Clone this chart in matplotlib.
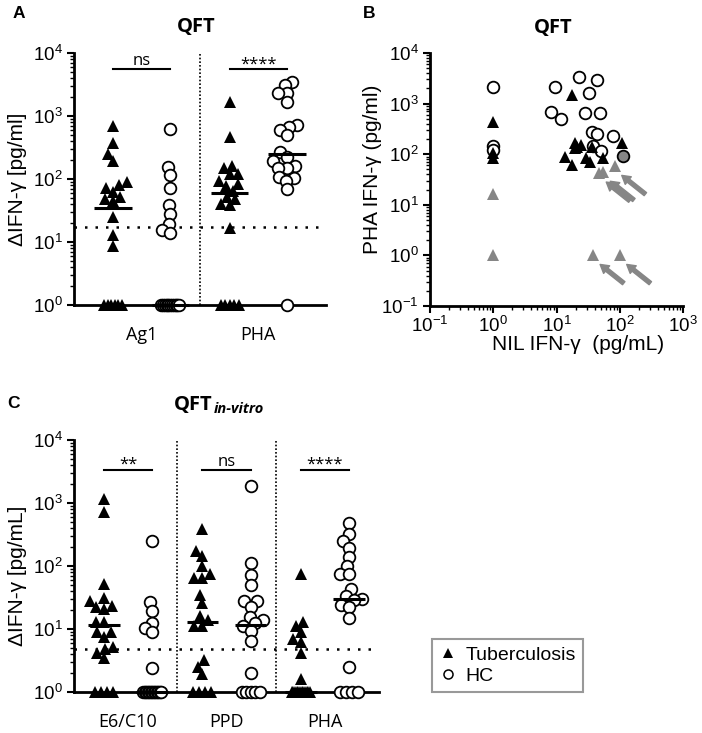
import numpy as np
import matplotlib
matplotlib.use('Agg')
import matplotlib.pyplot as plt
from matplotlib.lines import Line2D
from matplotlib.ticker import FixedLocator, LogLocator, LogFormatterSciNotation, NullFormatter
from matplotlib.transforms import offset_copy

# ---------------- data ----------------
# Panel A : QFT, delta IFN-gamma (pg/ml)
a_groups = ['Ag1', 'PHA']
a_ag1_tb = [690, 378, 246, 194, 89, 80, 73, 63, 52, 49, 44, 25, 13, 8.7, 1, 1, 1, 1, 1, 1]
a_ag1_hc = [615, 157, 116, 71, 38, 28, 19, 15.5, 14, 1, 1, 1, 1, 1, 1, 1, 1, 1, 1, 1]
a_pha_tb = [1650, 460, 162, 148, 118, 118, 94, 83, 78, 65, 52, 48, 40, 38, 16.5, 1, 1, 1, 1, 1]
a_pha_hc = [3500, 3100, 2300, 2300, 1650, 720, 675, 600, 500, 270, 225, 193, 161, 150, 150,
            109, 105, 94, 69, 1]
a_medians_tb = [35, 60]
a_medians_hc = [1, 250]
a_stats = ['ns', '****']
a_cutoff = 17.5

# Panel B : QFT, NIL vs PHA IFN-gamma
b_nil_tb = [1, 1, 1, 17.3, 19.5, 24, 21, 36.6, 13.5, 17.3, 29.7, 33.7, 54.6, 107, 19.5]
b_pha_tb = [440, 105, 85, 1510, 170, 154, 140, 138, 90, 62, 84, 69, 86, 165, 132]
b_nil_tb_grey = [1, 1, 47.5, 55, 83.5, 38, 100]
b_pha_tb_grey = [16.6, 1, 42.5, 44, 57.5, 1, 1]
b_arrow_tb_grey = [False, False, True, True, True, True, True]
b_nil_hc = [1, 1, 1, 22.5, 9.6, 44, 32.4, 8.3, 11.7, 28.7, 48, 35.8, 44, 77, 38, 51]
b_pha_hc = [2140, 148, 120, 3380, 2140, 2890, 1630, 690, 490, 660, 640, 280, 252, 230, 146, 118]
b_nil_hc_grey = [113]
b_pha_hc_grey = [93]

# Panel C : QFT in-vitro, delta IFN-gamma (pg/mL)
c_groups = ['E6/C10', 'PPD', 'PHA']
c_e6_tb = [1140, 730, 52, 31, 28, 23, 22, 21, 13, 13, 9, 8.8, 7.6, 5.2, 4.8, 4.2, 3.5, 1, 1, 1, 1]
c_e6_hc = [250, 26.5, 19.6, 12.3, 10.3, 8.8, 2.4] + [1] * 13
c_ppd_tb = [380, 174, 144, 100, 74, 64, 64, 35, 26, 16, 14, 11, 11, 3.2, 2.5, 1.9, 1, 1, 1, 1]
c_ppd_hc = [1860, 110, 72, 50, 28, 28, 22.6, 15.7, 14, 12.3, 11, 9.4, 6.5, 2.0, 1, 1, 1, 1, 1]
c_pha_tb = [75, 13, 11.3, 8.8, 7, 6.3, 4.2, 1.6] + [1] * 12
c_pha_hc = [475, 318, 245, 195, 137, 100, 74, 74, 43, 33, 30, 29, 24, 22.5, 14.8, 2.5, 1, 1, 1, 1]
c_medians_tb = [11.5, 12.8, 1]
c_medians_hc = [1, 11.6, 30]
c_stats = ['**', 'ns', '****']
c_cutoff = 4.8

legend_labels = ['Tuberculosis', 'HC']

# ---------------- style ----------------
plt.rcParams['font.family'] = ['Liberation Sans', 'DejaVu Sans']
plt.rcParams['mathtext.fontset'] = 'custom'
plt.rcParams['mathtext.rm'] = 'Liberation Sans'
plt.rcParams['axes.unicode_minus'] = True

GREY = '#868686'
W, H = 702, 733
fig = plt.figure(figsize=(W / 100, H / 100), dpi=100)


def rect(l, t, r, b):
    return [l / W, 1 - b / H, (r - l) / W, (b - t) / H]


axA = fig.add_axes(rect(74, 53, 326, 305))
axB = fig.add_axes(rect(430, 53, 683, 306))
axC = fig.add_axes(rect(74, 440, 379, 692))

LAB_FONT = dict(family=['Liberation Sans', 'DejaVu Sans'], size=15)
CAT_FONT = dict(family=['Open Sans', 'DejaVu Sans'], size=13)
TRI = dict(marker='^', ms=8.8, color='black', mew=0, ls='none', clip_on=False, zorder=3)
CIR = dict(marker='o', ms=8.4, mfc='white', mec='black', mew=1.3, ls='none', clip_on=False, zorder=3)


def style_axes(ax):
    for s in ['top', 'right']:
        ax.spines[s].set_visible(False)
    for s in ['left', 'bottom']:
        ax.spines[s].set_linewidth(2)
    ax.tick_params(which='major', length=5, width=1.5, labelsize=13.5, pad=3, direction='out')
    ax.tick_params(which='minor', length=3, width=1, direction='out')


def swarm_x(ax, xc, vals, d=8.5, floor=1.0, floor_span=18.0):
    vals = np.asarray(vals, float)
    py = ax.transData.transform(np.column_stack([np.full(len(vals), xc), vals]))[:, 1]
    ppu = (ax.transData.transform([(xc + 1.0, 1.0)])[0, 0]
           - ax.transData.transform([(xc, 1.0)])[0, 0])
    offs = np.zeros(len(vals))
    fl = np.where(vals <= floor)[0]
    if len(fl) > 1:
        sp = min(d, floor_span / (len(fl) - 1))
        offs[fl] = (np.arange(len(fl)) - (len(fl) - 1) / 2) * sp
    rest = [i for i in np.argsort(py) if vals[i] > floor]
    placed = []
    for i in rest:
        y = py[i]
        nb = [(px, pyy) for px, pyy in placed if abs(pyy - y) < d]
        cands = [0.0]
        for px, pyy in nb:
            dx = np.sqrt(d * d - (pyy - y) ** 2)
            cands += [px - dx, px + dx]
        cands.sort(key=lambda c: (abs(c), c))
        chosen = cands[-1]
        for c in cands:
            if all((c - px) ** 2 + (y - pyy) ** 2 >= d * d - 1e-6 for px, pyy in nb):
                chosen = c
                break
        placed.append((chosen, y))
        offs[i] = chosen
    return xc + offs / ppu


def column_panel(ax, groups, tb_list, hc_list, med_tb, med_hc, stats, cutoff, xlim, off,
                 ylabel, bar_y, label_xy):
    ax.set_yscale('log')
    ax.set_ylim(1, 1e4)
    ax.set_xlim(*xlim)
    style_axes(ax)
    centers = np.arange(len(groups))
    cols = []
    for g, (tb, hc) in enumerate(zip(tb_list, hc_list)):
        xt, xh = g - off, g + off
        cols += [xt, xh]
        ax.plot(swarm_x(ax, xt, tb), tb, **TRI)
        ax.plot(swarm_x(ax, xh, hc), hc, **CIR)
        ax.hlines([med_tb[g]], xt - 0.16, xt + 0.16, colors='k', lw=2.2, zorder=4, clip_on=False)
        ax.hlines([med_hc[g]], xh - 0.16, xh + 0.16, colors='k', lw=2.2, zorder=4, clip_on=False)
        ax.plot([xt, xh], [bar_y, bar_y], color='k', lw=1.5, clip_on=False)
        dy = 2.5 if stats[g] == 'ns' else 0.5
        ax.annotate(stats[g], xy=(g, bar_y), xytext=(0, dy), textcoords='offset points',
                    ha='center', va='baseline', family=['Open Sans', 'DejaVu Sans'], size=12)
    for g in centers[:-1]:
        ax.axvline(g + 0.5, color='k', lw=1.2, ls=(0, (1, 1.2)), zorder=1)
    ax.axhline(cutoff, color='k', lw=1.8, ls=(0, (1, 3.2)), zorder=1)
    ax.yaxis.set_major_locator(FixedLocator([1, 10, 100, 1000, 10000]))
    ax.yaxis.set_major_formatter(LogFormatterSciNotation())
    ax.yaxis.set_minor_locator(LogLocator(base=10, subs=np.arange(2, 10), numticks=20))
    ax.yaxis.set_minor_formatter(NullFormatter())
    ax.set_xticks(cols)
    ax.set_xticklabels([''] * len(cols))
    ax.tick_params(axis='x', which='major', length=4)
    ax.set_xticks(centers, minor=True)
    ax.set_xticklabels(groups, minor=True, **CAT_FONT)
    ax.tick_params(axis='x', which='minor', length=0, pad=15)
    ax.set_ylabel(ylabel, **LAB_FONT)
    ax.yaxis.set_label_coords(*label_xy)


column_panel(axA, a_groups, [a_ag1_tb, a_pha_tb], [a_ag1_hc, a_pha_hc], a_medians_tb,
             a_medians_hc, a_stats, a_cutoff, (-0.58, 1.58), 0.245, 'ΔIFN-γ [pg/ml]', 5600,
             (-0.185, 0.5))
column_panel(axC, c_groups, [c_e6_tb, c_ppd_tb, c_pha_tb], [c_e6_hc, c_ppd_hc, c_pha_hc],
             c_medians_tb, c_medians_hc, c_stats, c_cutoff, (-0.55, 2.55), 0.245,
             'ΔIFN-γ [pg/mL]', 3400, (-0.155, 0.46))

# ---------------- panel B ----------------
axB.set_xscale('log')
axB.set_yscale('log')
axB.set_xlim(0.1, 1000)
axB.set_ylim(0.1, 1e4)
style_axes(axB)
for axis in (axB.xaxis, axB.yaxis):
    axis.set_major_formatter(LogFormatterSciNotation())
    axis.set_minor_locator(LogLocator(base=10, subs=np.arange(2, 10), numticks=20))
    axis.set_minor_formatter(NullFormatter())
axB.xaxis.set_major_locator(FixedLocator([0.1, 1, 10, 100, 1000]))
axB.yaxis.set_major_locator(FixedLocator([0.1, 1, 10, 100, 1000, 10000]))
axB.tick_params(axis='x', which='major', pad=2)

axB.plot(b_nil_hc, b_pha_hc, **CIR)
axB.plot(b_nil_tb, b_pha_tb, **TRI)
axB.plot(b_nil_tb_grey, b_pha_tb_grey, **{**TRI, 'color': GREY})
axB.plot(b_nil_hc_grey, b_pha_hc_grey, **{**CIR, 'mfc': GREY})

head_tr = offset_copy(axB.transData, fig=fig, x=5.0, y=-6.5, units='points')
for xv, yv, flag in zip(b_nil_tb_grey, b_pha_tb_grey, b_arrow_tb_grey):
    if flag:
        axB.annotate('', xy=(xv, yv), xycoords=head_tr, xytext=(17, -13.5),
                     textcoords='offset points',
                     arrowprops=dict(arrowstyle='simple,head_length=0.6,head_width=0.7,tail_width=0.28',
                                     color=GREY, shrinkA=0, shrinkB=0, mutation_scale=10))

axB.set_ylabel('PHA IFN-γ (pg/ml)', **LAB_FONT)
axB.yaxis.set_label_coords(-0.19, 0.54)
axB.set_xlabel('NIL IFN-γ  (pg/mL)', **LAB_FONT)
axB.xaxis.set_label_coords(0.585, -0.115)

# ---------------- titles & panel letters ----------------
TITLE = dict(family=['Open Sans', 'DejaVu Sans'], weight='bold', size=14.5)
fig.text(196 / W, 1 - 32 / H, 'QFT', ha='center', va='baseline', **TITLE)
fig.text(553 / W, 1 - 33 / H, 'QFT', ha='center', va='baseline', **TITLE)
fig.text(213 / W, 1 - 410 / H, 'QFT', ha='right', va='baseline', **TITLE)
fig.text(214 / W, 1 - 413 / H, 'in-vitro', ha='left', va='baseline',
         family=['Open Sans', 'DejaVu Sans'], weight='bold', style='italic', size=10.5)
LETTER = dict(family=['Liberation Sans', 'DejaVu Sans'], weight='bold', size=12.5)
fig.text(13 / W, 1 - 18 / H, 'A', ha='left', va='baseline', **LETTER)
fig.text(363 / W, 1 - 18 / H, 'B', ha='left', va='baseline', **LETTER)
fig.text(7 / W, 1 - 408 / H, 'C', ha='left', va='baseline', **LETTER)

# ---------------- legend ----------------
handles = [Line2D([], [], marker='^', ms=7, color='black', mew=0, ls='none'),
           Line2D([], [], marker='o', ms=6.5, mfc='white', mec='black', mew=1.1, ls='none')]
leg = fig.legend(handles, legend_labels, loc='upper left', bbox_to_anchor=(432 / W, 1 - 639 / H),
                 bbox_transform=fig.transFigure, borderaxespad=0, frameon=True, fancybox=False,
                 edgecolor='#808080', prop=dict(family=['Liberation Sans', 'DejaVu Sans'], size=14),
                 handlelength=0.9, handletextpad=0.45, labelspacing=0.15, borderpad=0.38)
leg.get_frame().set_linewidth(1.5)

fig.savefig('out.png', dpi=100)
